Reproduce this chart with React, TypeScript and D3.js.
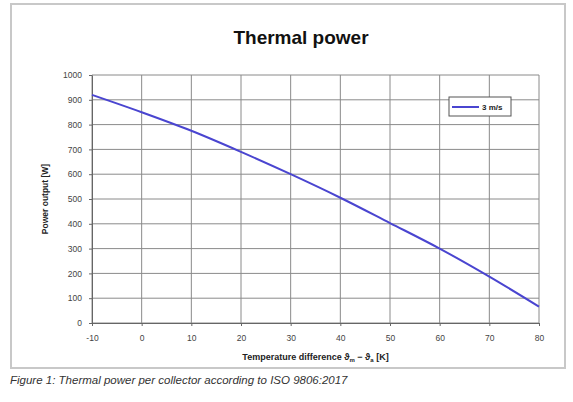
import React, { useEffect, useRef } from 'react';
import * as d3 from 'd3';

// temperature difference [K] and power output [W] for 3 m/s
const tempDiff = [-10, 0, 10, 20, 30, 40, 50, 60, 70, 80];
const power = [920, 850, 775, 690, 600, 505, 403, 300, 187, 66];
const xTicks = [-10, 0, 10, 20, 30, 40, 50, 60, 70, 80];
const yTicks = [0, 100, 200, 300, 400, 500, 600, 700, 800, 900, 1000];
const seriesName = '3 m/s';

export default function App() {
  const svgRef = useRef<SVGSVGElement | null>(null);

  useEffect(() => {
    if (!svgRef.current) return;
    const W = 573, H = 402;
    const left = 92, right = 539, top = 75, bottom = 323;
    const font = '"Liberation Sans", Arial, sans-serif';

    const svg = d3.select(svgRef.current);
    svg.selectAll('*').remove();
    svg.attr('width', W).attr('height', H).style('font-family', font);

    svg.append('rect').attr('width', W).attr('height', H).attr('fill', '#fff');

    // outer chart frame
    svg.append('rect')
      .attr('x', 11).attr('y', 4).attr('width', 554).attr('height', 364)
      .attr('fill', '#fff').attr('stroke', '#c8c8c8').attr('stroke-width', 2);

    const x = d3.scaleLinear().domain([-10, 80]).range([left, right]);
    const y = d3.scaleLinear().domain([0, 1000]).range([bottom, top]);

    const g = svg.append('g');

    // grid
    g.append('g').selectAll('line').data(yTicks).join('line')
      .attr('x1', left).attr('x2', right)
      .attr('y1', d => y(d)).attr('y2', d => y(d))
      .attr('stroke', '#8a8a8a').attr('stroke-width', 1);
    g.append('g').selectAll('line').data(xTicks).join('line')
      .attr('y1', top).attr('y2', bottom)
      .attr('x1', d => x(d)).attr('x2', d => x(d))
      .attr('stroke', '#8a8a8a').attr('stroke-width', 1);

    // axes
    const fmt = (d: d3.NumberValue) => String(d);
    const xAxis = g.append('g').attr('transform', `translate(0,${bottom})`)
      .call(d3.axisBottom(x).tickValues(xTicks).tickFormat(fmt).tickSize(3).tickSizeOuter(0).tickPadding(9));
    const yAxis = g.append('g').attr('transform', `translate(${left},0)`)
      .call(d3.axisLeft(y).tickValues(yTicks).tickFormat(fmt).tickSize(3).tickSizeOuter(0).tickPadding(7));
    [xAxis, yAxis].forEach(a => {
      a.select('.domain').attr('stroke', '#666');
      a.selectAll('.tick line').attr('stroke', '#666');
      a.selectAll('.tick text').attr('fill', '#444').style('font-size', '8.5px').style('font-family', font);
    });

    // series line
    const line = d3.line<number>()
      .x((_, i) => x(tempDiff[i]))
      .y(d => y(d))
      .curve(d3.curveMonotoneX);
    g.append('path').datum(power)
      .attr('d', line)
      .attr('fill', 'none')
      .attr('stroke', '#4a45d0')
      .attr('stroke-width', 2);

    // legend
    const lg = svg.append('g').attr('transform', 'translate(449,97)');
    lg.append('rect').attr('width', 62).attr('height', 19)
      .attr('fill', '#fff').attr('stroke', '#555').attr('stroke-width', 1);
    lg.append('line').attr('x1', 3).attr('x2', 30).attr('y1', 10).attr('y2', 10)
      .attr('stroke', '#4a45d0').attr('stroke-width', 2);
    lg.append('text').attr('x', 33).attr('y', 13)
      .style('font-size', '8px').style('font-weight', 'bold').attr('fill', '#222')
      .text(seriesName);

    // title
    svg.append('text').attr('x', 301).attr('y', 44)
      .attr('text-anchor', 'middle')
      .style('font-size', '19px').style('font-weight', 'bold').attr('fill', '#111')
      .text('Thermal power');

    // y axis title
    svg.append('text')
      .attr('transform', `translate(48,${(top + bottom) / 2}) rotate(-90)`)
      .attr('text-anchor', 'middle')
      .style('font-size', '8.5px').style('font-weight', 'bold').attr('fill', '#222')
      .text('Power output [W]');

    // x axis title with subscripts
    const xt = svg.append('text').attr('x', (left + right) / 2).attr('y', 360)
      .attr('text-anchor', 'middle')
      .style('font-size', '9px').style('font-weight', 'bold').attr('fill', '#222');
    xt.append('tspan').text('Temperature difference ϑ');
    xt.append('tspan').attr('dy', 2).style('font-size', '6px').text('m');
    xt.append('tspan').attr('dy', -2).text(' − ϑ');
    xt.append('tspan').attr('dy', 2).style('font-size', '6px').text('a');
    xt.append('tspan').attr('dy', -2).text(' [K]');

    // caption
    svg.append('text').attr('x', 10).attr('y', 384)
      .style('font-size', '11.5px').style('font-style', 'italic').attr('fill', '#333')
      .text('Figure 1: Thermal power per collector according to ISO 9806:2017');
  }, []);

  return <svg ref={svgRef} style={{ position: 'absolute', left: 0, top: 0 }} />;
}
